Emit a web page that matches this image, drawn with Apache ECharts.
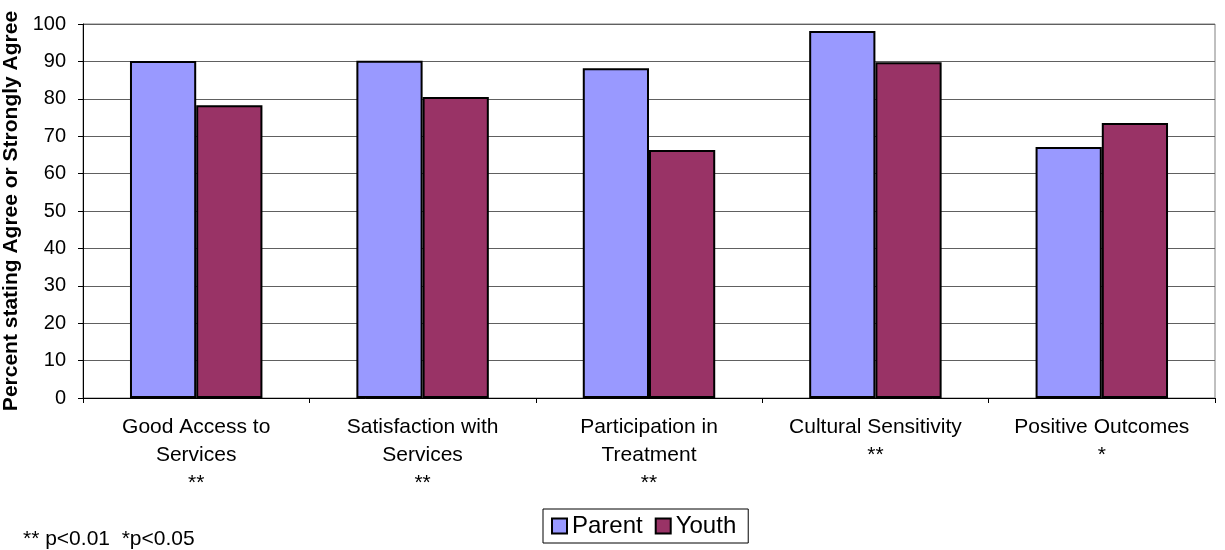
<!DOCTYPE html>
<html>
<head>
<meta charset="utf-8">
<script src="https://cdn.jsdelivr.net/npm/echarts@6/dist/echarts.min.js"></script>
<style>html,body{margin:0;padding:0;background:#fff}#c{width:1225px;height:550px}</style>
</head>
<body>
<div id="c"></div>
<script>
const categories = ['Good Access to\nServices\n**', 'Satisfaction with\nServices\n**', 'Participation in\nTreatment\n**', 'Cultural Sensitivity\n**', 'Positive Outcomes\n*'];
const parentValues = [90.1, 90.2, 88.2, 98.1, 67.1];
const youthValues = [78.3, 80.5, 66.3, 89.8, 73.5];
const yTicks = { min: 0, max: 100, interval: 10 };
const yTitle = 'Percent stating Agree or Strongly Agree';
const footnote = '** p<0.01  *p<0.05';

const FONT = 'Liberation Sans, Arial, sans-serif';
const chart = echarts.init(document.getElementById('c'));
chart.setOption({
  animation: false,
  backgroundColor: '#fff',
  textStyle: { fontFamily: FONT, color: '#000' },
  grid: { left: 83, right: 10, top: 24, bottom: 152, show: true, borderColor: '#808080', borderWidth: 1,
          containLabel: false, outerBoundsMode: 'none' },
  legend: {
    left: 543, top: 509,
    data: ['Parent', 'Youth'],
    icon: 'rect', itemWidth: 15, itemHeight: 15, itemGap: 12,
    borderColor: '#000', borderWidth: 1, padding: [5, 12, 5, 8],
    textStyle: { fontSize: 24, fontFamily: FONT, color: '#000' }
  },
  xAxis: {
    type: 'category', data: categories,
    axisLine: { lineStyle: { color: '#000', width: 1 } },
    axisTick: { show: true, length: 5, lineStyle: { color: '#000' } },
    axisLabel: { fontSize: 21, lineHeight: 28, margin: 15, color: '#000', interval: 0, fontFamily: FONT }
  },
  yAxis: {
    type: 'value', min: yTicks.min, max: yTicks.max, interval: yTicks.interval,
    name: yTitle, nameLocation: 'middle', nameGap: 56,
    nameTextStyle: { fontSize: 21, fontWeight: 'bold', color: '#000', fontFamily: FONT },
    axisLine: { show: true, lineStyle: { color: '#000', width: 1 } },
    axisTick: { show: true, length: 5, lineStyle: { color: '#000' } },
    axisLabel: { fontSize: 20, color: '#000', margin: 17, fontFamily: FONT },
    splitLine: { lineStyle: { color: '#606060', width: 1 } }
  },
  series: [
    { name: 'Parent', type: 'bar', data: parentValues, barGap: '0%', barCategoryGap: '41.5%',
      itemStyle: { color: '#9999FF', borderColor: '#000', borderWidth: 2 } },
    { name: 'Youth', type: 'bar', data: youthValues,
      itemStyle: { color: '#993366', borderColor: '#000', borderWidth: 2 } }
  ],
  graphic: [
    { type: 'text', left: 23, top: 529, style: { text: footnote, fontSize: 21, fontFamily: FONT, fill: '#000' } }
  ]
});
</script>
</body>
</html>
